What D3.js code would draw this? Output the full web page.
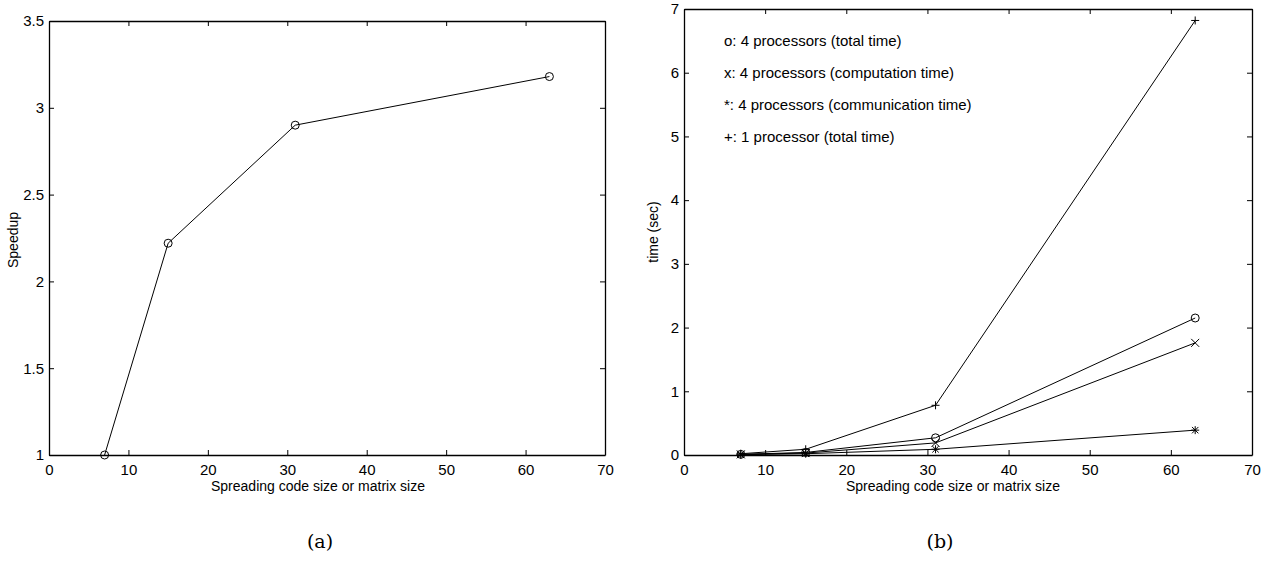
<!DOCTYPE html>
<html>
<head>
<meta charset="utf-8">
<script src="https://cdn.jsdelivr.net/npm/d3@7"></script>
<style>
  body { margin: 0; background: #fff; }
  svg text { font-family: "Liberation Sans", Arial, sans-serif; fill: #000; }
  svg text.title { font-size: 14px; }
  svg text.legend { font-size: 15px; }
  svg .tick text { font-size: 15px; }
  svg text.cap { font-family: "DejaVu Serif", "Liberation Serif", serif; font-size: 19px; }
</style>
</head>
<body>
<div id="chart"></div>
<script>
//data for panel (a)
var sizes = [7, 15, 31, 63];
var speedup = [1, 2.22, 2.9, 3.18];

//data for panel (b)
var totalTime4 = [0.01, 0.04, 0.27, 2.15];
var compTime4 = [0.01, 0.03, 0.19, 1.76];
var commTime4 = [0.005, 0.02, 0.09, 0.39];
var totalTime1 = [0.02, 0.09, 0.78, 6.82];

var xTicks = [0, 10, 20, 30, 40, 50, 60, 70];
var yTicksA = [1, 1.5, 2, 2.5, 3, 3.5];
var yTicksB = [0, 1, 2, 3, 4, 5, 6, 7];
var legendLabels = [
  "o: 4 processors (total time)",
  "x: 4 processors (computation time)",
  "*: 4 processors (communication time)",
  "+: 1 processor (total time)"
];
var legendY = [6.5, 6, 5.5, 5];

var svg = d3
  .select("#chart")
  .append("svg")
  .attr("width", 1268)
  .attr("height", 567);

//draw a matlab style box with inward ticks on all sides
var drawFrame = function(g, x, y, yTicks) {
  var x0 = x.range()[0], x1 = x.range()[1];
  var y0 = y.range()[0], y1 = y.range()[1];
  var tick = 5;

  g.append("g")
    .attr("transform", "translate(0," + y0 + ")")
    .call(d3.axisBottom(x).tickValues(xTicks).tickSizeInner(-tick).tickSizeOuter(0).tickPadding(9));
  g.append("g")
    .attr("transform", "translate(0," + y1 + ")")
    .call(d3.axisTop(x).tickValues(xTicks).tickSizeInner(-tick).tickSizeOuter(0).tickFormat(""));
  g.append("g")
    .attr("transform", "translate(" + x0 + ",0)")
    .call(d3.axisLeft(y).tickValues(yTicks).tickSizeInner(-tick).tickSizeOuter(0).tickPadding(5).tickFormat(d3.format("")));
  g.append("g")
    .attr("transform", "translate(" + x1 + ",0)")
    .call(d3.axisRight(y).tickValues(yTicks).tickSizeInner(-tick).tickSizeOuter(0).tickFormat(""));

  g.selectAll(".domain").attr("stroke", "#000").attr("stroke-width", 1.3);
  g.selectAll(".tick line").attr("stroke", "#000");
  g.selectAll(".tick text").attr("fill", "#000");
  g.selectAll("g").attr("font-family", null).attr("font-size", null);
};

//marker shapes
var drawMarker = function(g, px, py, kind) {
  var r = 4;
  if (kind == "o") {
    g.append("circle").attr("cx", px).attr("cy", py).attr("r", r)
      .attr("fill", "none").attr("stroke", "#000").attr("stroke-width", 1);
  }
  if (kind == "+" || kind == "*") {
    g.append("path").attr("d", "M" + (px - r) + "," + py + "H" + (px + r) + "M" + px + "," + (py - r) + "V" + (py + r))
      .attr("stroke", "#000").attr("stroke-width", 1);
  }
  if (kind == "x" || kind == "*") {
    var d = kind == "*" ? r * 0.8 : r;
    g.append("path").attr("d", "M" + (px - d) + "," + (py - d) + "L" + (px + d) + "," + (py + d) + "M" + (px - d) + "," + (py + d) + "L" + (px + d) + "," + (py - d))
      .attr("stroke", "#000").attr("stroke-width", 1);
  }
};

var drawSeries = function(g, x, y, values, kind) {
  var line = d3.line()
    .x(function(d, i) { return x(sizes[i]); })
    .y(function(d) { return y(d); });
  g.append("path").datum(values).attr("d", line)
    .attr("fill", "none").attr("stroke", "#000").attr("stroke-width", 1);
  values.forEach(function(v, i) {
    drawMarker(g, x(sizes[i]), y(v), kind);
  });
};

//panel (a)
var xA = d3.scaleLinear().domain([0, 70]).range([49, 605]);
var yA = d3.scaleLinear().domain([1, 3.5]).range([455, 21]);
var gA = svg.append("g");
drawFrame(gA, xA, yA, yTicksA);
drawSeries(gA, xA, yA, speedup, "o");
gA.append("text").attr("class", "title").attr("x", 318).attr("y", 491).attr("text-anchor", "middle")
  .text("Spreading code size or matrix size");
gA.append("text").attr("class", "title").attr("transform", "translate(18,240) rotate(-90)").attr("text-anchor", "middle")
  .text("Speedup");
gA.append("text").attr("class", "cap").attr("x", 320).attr("y", 548).attr("text-anchor", "middle").text("(a)");

//panel (b)
var xB = d3.scaleLinear().domain([0, 70]).range([684, 1252]);
var yB = d3.scaleLinear().domain([0, 7]).range([455, 9]);
var gB = svg.append("g");
drawFrame(gB, xB, yB, yTicksB);
drawSeries(gB, xB, yB, totalTime1, "+");
drawSeries(gB, xB, yB, totalTime4, "o");
drawSeries(gB, xB, yB, compTime4, "x");
drawSeries(gB, xB, yB, commTime4, "*");
gB.append("text").attr("class", "title").attr("x", 953).attr("y", 491).attr("text-anchor", "middle")
  .text("Spreading code size or matrix size");
gB.append("text").attr("class", "title").attr("transform", "translate(658,232) rotate(-90)").attr("text-anchor", "middle")
  .text("time (sec)");
legendLabels.forEach(function(t, i) {
  gB.append("text").attr("class", "legend").attr("x", 724).attr("y", yB(legendY[i])).attr("dy", "0.35em").text(t);
});
gB.append("text").attr("class", "cap").attr("x", 940).attr("y", 548).attr("text-anchor", "middle").text("(b)");
</script>
</body>
</html>
